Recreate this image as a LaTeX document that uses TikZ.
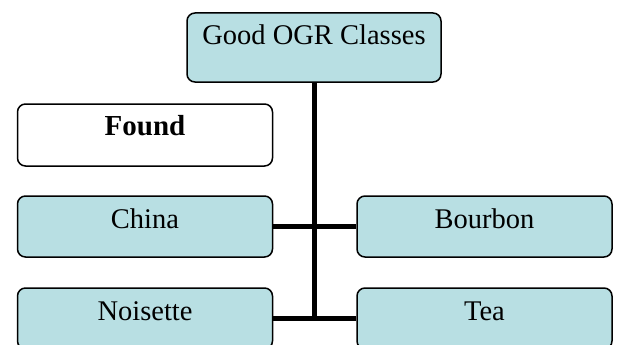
\documentclass[tikz,border=0pt]{standalone}
\usepackage{fontspec}
\setmainfont{Liberation Serif}
\usepackage{tikz}
\definecolor{ogrblue}{HTML}{B8DFE3}

\begin{document}
\begin{tikzpicture}[x=1pt, y=-1pt,
    box/.style={rectangle, rounded corners=8pt, draw=black, line width=1.5pt, fill=ogrblue, inner sep=0pt, minimum width=255pt, text height=32pt, text depth=29pt, font=\fontsize{28.5}{34}\selectfont},
    link/.style={line width=5pt}]
    \useasboundingbox (0,0) rectangle (618,345);
    \clip (0,0) rectangle (618,345);
    \node[box, minimum width=254pt, text depth=37pt] (1) at (314,47.5) {Good OGR Classes};
    \node[box, fill=white, text height=31pt, text depth=31pt, font=\fontsize{29}{34}\selectfont\bfseries] (2) at (145,135) {Found};
    \node[box] (3) at (145,226.5) {China};
    \node[box] (4) at (484.5,226.5) {Bourbon};
    \node[box] (5) at (145,318.5) {Noisette};
    \node[box] (6) at (484.5,318.5) {Tea};
    \draw[link] (1) -- (1 |- 5);
    \draw[link] (3) -- (4);
    \draw[link] (5) -- (6);
\end{tikzpicture}
\end{document}
